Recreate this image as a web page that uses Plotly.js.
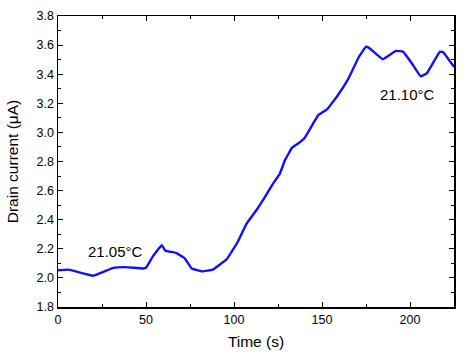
<!DOCTYPE html>
<html>
<head>
<meta charset="utf-8">
<script src="https://cdn.plot.ly/plotly-3.0.1.min.js"></script>
<style>
  html, body { margin: 0; padding: 0; background: #fff; }
  #plot { width: 463px; height: 358px; }
</style>
</head>
<body>
<div id="plot"></div>
<script>
// Drain current vs time
const time = [0, 6, 20, 31, 38, 48.5, 50, 54, 59, 61, 64, 67, 72, 76, 82, 88, 96, 102, 107, 113, 117, 122, 126, 129, 133, 136, 140, 148, 153, 159, 165, 171, 175, 177, 184.5, 192, 196, 201, 206, 209.5, 217, 219, 225];
const current = [2.053, 2.057, 2.015, 2.067, 2.074, 2.065, 2.07, 2.15, 2.225, 2.186, 2.179, 2.172, 2.135, 2.064, 2.045, 2.057, 2.13, 2.245, 2.37, 2.47, 2.545, 2.645, 2.715, 2.81, 2.895, 2.92, 2.96, 3.12, 3.16, 3.255, 3.37, 3.52, 3.59, 3.578, 3.503, 3.56, 3.555, 3.475, 3.386, 3.405, 3.555, 3.55, 3.45];

// temperature labels placed in data coordinates
const labelText = ['21.05°C', '21.10°C'];
const labelX = [32.4, 198.3];
const labelY = [2.18, 3.26];

const fam = 'Liberation Sans, Arial, sans-serif';
const axisFont = { family: fam, size: 12.5, color: '#000' };

const data = [{
    x: time,
    y: current,
    type: 'scatter',
    mode: 'lines',
    line: { color: '#1010ff', width: 2.4, shape: 'spline', smoothing: 0.25 },
    hoverinfo: 'skip'
}];

const axisCommon = {
    showline: true,
    linecolor: '#000',
    linewidth: 1.5,
    mirror: 'allticks',
    ticks: 'inside',
    ticklen: 5,
    tickwidth: 1,
    tickcolor: '#000',
    showgrid: false,
    zeroline: false,
    tickfont: axisFont
};

const layout = {
    width: 463,
    height: 358,
    margin: { l: 58, r: 9, t: 16, b: 51 },
    paper_bgcolor: '#fff',
    plot_bgcolor: '#fff',
    showlegend: false,
    xaxis: Object.assign({}, axisCommon, {
        range: [0, 225],
        dtick: 50,
        tick0: 0,
        minor: { dtick: 25, ticks: 'inside', ticklen: 3, tickcolor: '#000' },
        title: { text: 'Time (s)', font: { family: fam, size: 15.5, color: '#000' }, standoff: 10 }
    }),
    yaxis: Object.assign({}, axisCommon, {
        range: [1.8, 3.8],
        dtick: 0.2,
        tick0: 1.8,
        tickformat: '.1f',
        minor: { dtick: 0.1, ticks: 'inside', ticklen: 3, tickcolor: '#000' },
        title: { text: 'Drain current (μA)', font: { family: fam, size: 15.5, color: '#000' }, standoff: 14 }
    }),
    annotations: labelText.map((t, i) => ({
        x: labelX[i],
        y: labelY[i],
        text: t,
        showarrow: false,
        font: { family: fam, size: 15, color: '#000' }
    }))
};

Plotly.newPlot('plot', data, layout, { staticPlot: true, displayModeBar: false });
</script>
</body>
</html>
